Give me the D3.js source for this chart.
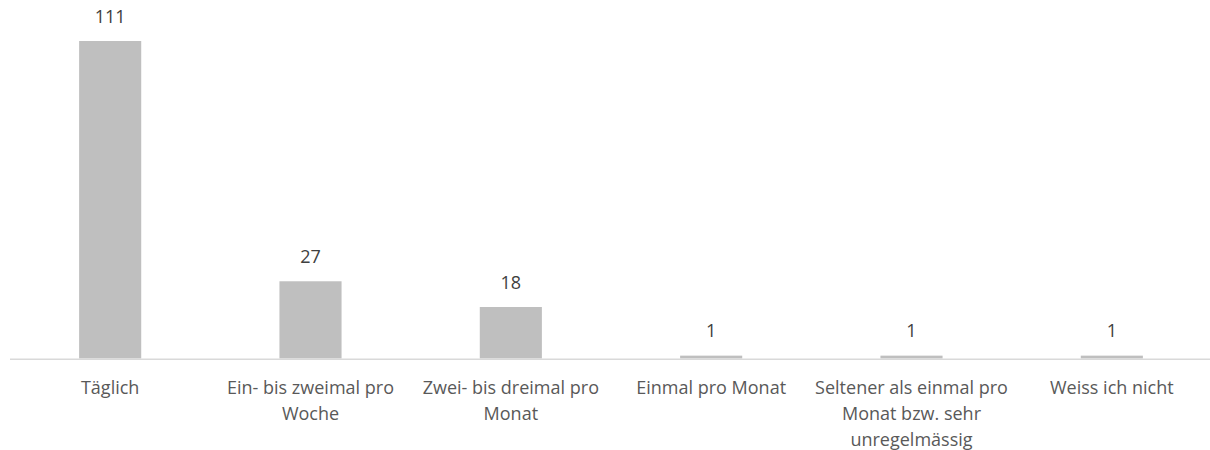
<!DOCTYPE html>
<html><head><meta charset="utf-8">
<script src="https://cdn.jsdelivr.net/npm/d3@7"></script>
<style>body{margin:0;background:#fff}svg{display:block}text{font-family:"Open Sans",sans-serif}</style>
</head><body><svg id="c" width="1210" height="450"></svg>
<script>
const categories = ["Täglich","Ein- bis zweimal pro Woche","Zwei- bis dreimal pro Monat","Einmal pro Monat","Seltener als einmal pro Monat bzw. sehr unregelmässig","Weiss ich nicht"];
const values = [111,27,18,1,1,1];

const svg = d3.select("#c");
const x = d3.scaleBand().domain(categories).range([10,1212]).paddingInner(0.69).paddingOuter(0.345);
const y = d3.scaleLinear().domain([0,111]).range([358.5,41]);

svg.selectAll("rect.bar").data(categories).join("rect").attr("class","bar")
  .attr("x",d=>x(d)).attr("width",x.bandwidth())
  .attr("y",(d,i)=>y(values[i])).attr("height",(d,i)=>y(0)-y(values[i]))
  .attr("fill","#bfbfbf");

svg.append("line").attr("x1",10).attr("x2",1210).attr("y1",359.2).attr("y2",359.2)
  .attr("stroke","#d9d9d9").attr("stroke-width",1.5);

svg.selectAll("text.val").data(categories).join("text").attr("class","val")
  .attr("x",d=>x(d)+x.bandwidth()/2).attr("y",(d,i)=>y(values[i])-18.5)
  .attr("text-anchor","middle").attr("font-size",18).attr("fill","#404040")
  .text((d,i)=>values[i]);

const maxW = 205;
categories.forEach(c=>{
  const t = svg.append("text").attr("text-anchor","middle").attr("font-size",18).attr("fill","#595959");
  const cx = x(c)+x.bandwidth()/2;
  const words = c.split(" ");
  let lines=[], cur=[];
  const meas = svg.append("text").attr("font-size",18);
  words.forEach(w=>{
    const test = cur.concat([w]).join(" ");
    meas.text(test);
    if (meas.node().getComputedTextLength() > maxW && cur.length){ lines.push(cur.join(" ")); cur=[w]; }
    else cur.push(w);
  });
  lines.push(cur.join(" "));
  meas.remove();
  lines.forEach((l,i)=>t.append("tspan").attr("x",cx).attr("y",394+i*26).text(l));
});
</script></body></html>
